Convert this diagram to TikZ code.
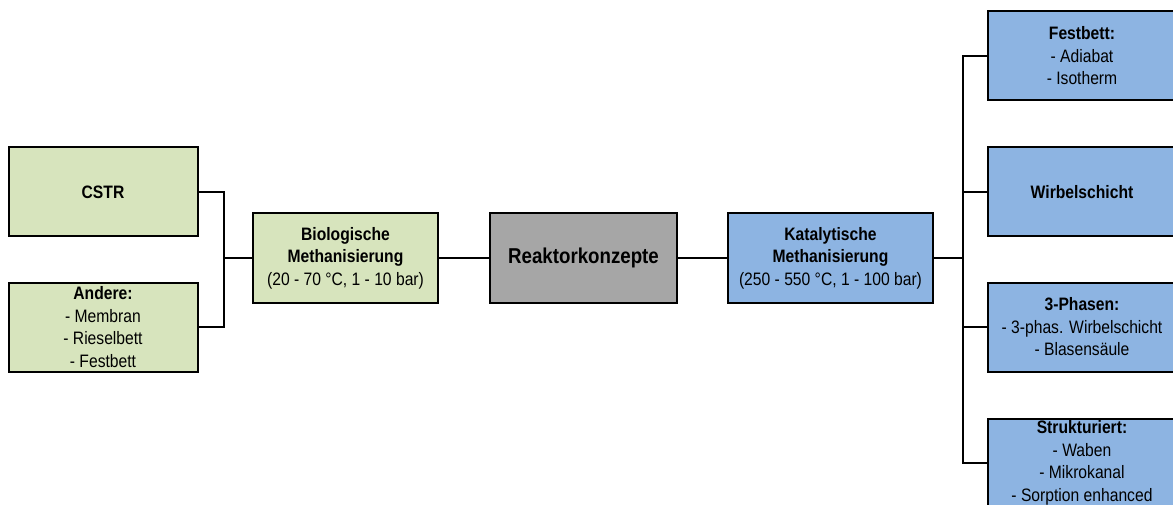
\documentclass[tikz,border=0pt]{standalone}
\usepackage{fontspec}
\setmainfont{Liberation Sans}[FakeStretch=0.87]
\definecolor{biogreen}{HTML}{D7E4BD}
\definecolor{katblue}{HTML}{8DB4E2}
\definecolor{maingray}{HTML}{A6A6A6}
\begin{document}
\begin{tikzpicture}[x=1pt, y=-1pt,
    box/.style={draw=black, line width=2pt, align=center, inner sep=1pt,
      minimum height=89pt, font=\fontsize{18}{22.5}\selectfont},
    bio/.style={box, fill=biogreen, minimum width=189pt},
    kat/.style={box, fill=katblue, minimum width=188pt},
    link/.style={line width=2pt}]
  \useasboundingbox (0,0) rectangle (1173,505);

  % Biologische Seite
  \node[bio] (cstr) at (103, 192) {\textbf{CSTR}};
  \node[bio] (andere) at (103, 327) {\textbf{Andere:}\\- Membran\\- Rieselbett\\- Festbett};
  \node[bio, minimum width=185pt] (biol) at (345.5, 258)
    {\textbf{Biologische}\\\textbf{Methanisierung}\\(20 - 70 °C, 1 - 10 bar)};

  % Mitte
  \node[box, fill=maingray, minimum width=187pt,
    font=\fontsize{21.5}{26}\selectfont\bfseries] (reaktor) at (583.5, 258) {Reaktorkonzepte};

  % Katalytische Seite
  \node[kat, minimum width=205pt] (katal) at (830.5, 258)
    {\textbf{Katalytische}\\\textbf{Methanisierung}\\(250 - 550 °C, 1 - 100 bar)};
  \node[kat] (festbett) at (1082, 56) {\textbf{Festbett:}\\- Adiabat\\- Isotherm};
  \node[kat] (wirbel) at (1082, 192) {\textbf{Wirbelschicht}};
  \node[kat] (phasen) at (1082, 327) {\textbf{3-Phasen:}\\- 3-phas. Wirbelschicht\\- Blasensäule};
  \node[kat] (strukt) at (1082, 463) {\textbf{Strukturiert:}\\- Waben\\- Mikrokanal\\- Sorption enhanced};

  % Verbindungen
  \coordinate (jl) at (224, 258);
  \coordinate (jr) at (963, 258);
  \draw[link] (cstr.east) -| (jl) |- (andere.east);
  \draw[link] (jl) -- (biol.west);
  \draw[link] (biol) -- (reaktor);
  \draw[link] (reaktor) -- (katal);
  \draw[link] (katal.east) -- (jr);
  \draw[link] (festbett.west) -| (jr) |- (strukt.west);
  \draw[link] (wirbel.west) -| (jr);
  \draw[link] (phasen.west) -| (jr);
\end{tikzpicture}
\end{document}
